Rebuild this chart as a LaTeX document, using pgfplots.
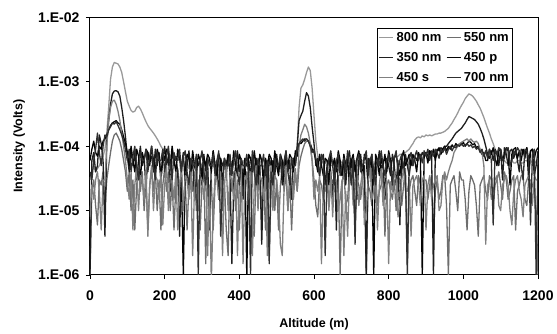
\documentclass[border=0pt]{standalone}
\usepackage{pgfplots}
\pgfplotsset{compat=1.18}
\usepackage{pgfplotstable}
\usepackage{fontspec}
\setmainfont{Liberation Sans}
\definecolor{c800}{HTML}{999999}
\definecolor{c550}{HTML}{6E6E6E}
\definecolor{c350}{HTML}{1E1E1E}
\definecolor{c450p}{HTML}{050505}
\definecolor{c450s}{HTML}{808080}
\definecolor{c700}{HTML}{303030}
\pgfplotstableread{
x a b c d e f
0 3e-5 1e-6 1e-6 6e-5 8e-6 4e-5
5 4e-5 2e-5 6e-5 9e-5 2.5e-5 3e-5
10 5e-5 3e-5 8e-5 1.2e-4 1.5e-5 6e-5
15 4e-5 1.2e-5 4e-5 8e-5 3e-5 9e-5
20 4.5e-5 6e-6 5e-5 7e-5 4e-5 1.6e-4
25 5e-5 3e-5 1.5e-4 1e-4 2e-5 8e-5
30 6e-5 2.5e-5 1.1e-4 9e-5 5e-6 5e-5
35 7e-5 4e-5 6e-5 1.2e-4 3e-5 1e-4
40 9e-5 1.2e-5 4e-6 1.3e-4 3e-5 1.5e-4
45 1.6e-4 3e-5 1.2e-4 1.5e-4 1e-4 1.4e-4
50 4e-4 5e-5 2.5e-4 1.8e-4 2.5e-4 1.8e-4
55 1.1e-3 8e-5 4.5e-4 2.1e-4 4e-4 2e-4
60 1.7e-3 1.2e-4 6.5e-4 2.3e-4 5e-4 2.3e-4
65 2e-3 1.5e-4 7.2e-4 2.4e-4 5.2e-4 2.2e-4
70 1.95e-3 1.6e-4 7.3e-4 2.5e-4 4.5e-4 2.4e-4
75 1.9e-3 1.4e-4 7e-4 2.3e-4 3.5e-4 2.1e-4
80 1.7e-3 1.2e-4 6e-4 2.2e-4 2.5e-4 1.8e-4
85 1.4e-3 9e-5 4e-4 1.8e-4 1.6e-4 1.5e-4
90 1e-3 6e-5 2.5e-4 1.4e-4 1e-4 1.2e-4
95 7e-4 4e-5 1.4e-4 1.1e-4 6e-5 9e-5
100 5e-4 2e-5 7e-5 8e-5 3e-5 6e-5
105 4.2e-4 4e-5 4e-5 5e-5 1.5e-5 9e-5
110 3.6e-4 1e-5 9e-5 1e-4 4e-5 4e-5
115 3.4e-4 3e-5 5e-5 6e-5 5e-6 7e-5
120 3.5e-4 5e-6 8e-5 4e-5 2.5e-5 1e-4
125 4e-4 2.5e-5 3e-5 9e-5 5e-5 5e-5
130 4.2e-4 4.5e-5 6e-5 7e-5 1e-5 3e-5
135 3.8e-4 2e-5 1e-4 3e-5 3.5e-5 8e-5
140 3.3e-4 4e-5 5e-5 8e-5 3e-5 6e-5
145 2.8e-4 1e-5 7e-5 6e-5 1.5e-5 6e-5
150 2.4e-4 3e-5 2e-5 9e-5 4e-5 9e-5
155 2.1e-4 5e-6 8e-5 8e-5 4e-6 4e-5
160 1.9e-4 2.5e-5 6e-5 5e-5 2.5e-5 7e-5
165 1.75e-4 4.5e-5 7e-5 1e-4 5e-5 1e-4
170 1.6e-4 2e-5 4e-5 6e-5 1e-5 5e-5
175 1.45e-4 4e-5 9e-5 4e-5 3.5e-5 3e-5
180 1.3e-4 1e-5 5e-5 9e-5 3e-5 8e-5
185 1.15e-4 3e-5 8e-5 7e-5 1.5e-5 6e-5
190 1e-4 5e-6 3e-5 3e-5 4e-5 6e-5
195 9e-5 2.5e-5 6e-5 8e-5 6e-6 9e-5
200 8.5e-5 4.5e-5 1e-4 6e-5 2.5e-5 4e-5
205 8e-5 2e-5 5e-5 9e-5 5e-5 7e-5
210 7.5e-5 4e-5 7e-5 8e-5 1e-5 1e-4
215 7.2e-5 1e-5 2e-5 5e-5 3.5e-5 5e-5
220 7e-5 3e-5 8e-5 1e-4 3e-5 3e-5
225 6.8e-5 5e-6 6e-5 6e-5 1.5e-5 8e-5
230 6.5e-5 2.5e-5 7e-5 4e-5 4e-5 6e-5
235 6.2e-5 4.5e-5 4e-5 9e-5 5e-6 6e-5
240 6e-5 2e-5 4e-6 7e-5 2.5e-5 9e-5
245 5.8e-5 4e-5 5e-5 3e-5 5e-5 4e-5
250 5.5e-5 1e-5 8e-5 1e-6 1e-5 7e-5
255 5e-5 3e-5 2.5e-5 5e-5 3.5e-5 8.5e-5
260 6e-5 5e-6 5e-5 7.5e-5 3e-5 4e-5
265 4.5e-5 2.5e-5 8.5e-5 6.5e-5 1.5e-5 2.5e-5
270 5.5e-5 4.5e-5 4e-5 4e-5 4e-5 6.5e-5
275 6e-5 2e-5 6e-5 8.5e-5 2e-6 5e-5
280 5e-5 4e-5 1.5e-5 5e-5 2.5e-5 5e-5
285 4.8e-5 1e-5 6.5e-5 3.5e-5 5e-5 7.5e-5
290 5.8e-5 3e-5 5e-5 7.5e-5 1e-5 1e-6
295 5.5e-5 5e-6 6e-5 6e-5 3.5e-5 6e-5
300 5e-5 2.5e-5 3.5e-5 2.5e-5 3e-5 8.5e-5
305 6e-5 4.5e-5 7.5e-5 6.5e-5 1.5e-5 4e-5
310 4.5e-5 1.5e-6 4e-5 5e-5 4e-5 2.5e-5
315 5.5e-5 4e-5 6.5e-5 7.5e-5 2e-6 6.5e-5
320 6e-5 1e-5 5e-6 6.5e-5 2.5e-5 5e-5
325 5e-5 3e-5 5e-5 4e-5 8e-7 5e-5
330 4.8e-5 5e-6 8.5e-5 8.5e-5 1e-5 7.5e-5
335 5.8e-5 2.5e-5 4e-5 5e-5 3.5e-5 3.5e-5
340 5.5e-5 4.5e-5 6e-5 3.5e-5 3e-5 6e-5
345 5e-5 2e-5 1.5e-5 7.5e-5 1.5e-5 8.5e-5
350 6e-5 4e-5 6.5e-5 6e-5 4e-5 4e-6
355 4.5e-5 1e-5 5e-5 2.5e-5 2e-6 2.5e-5
360 5.5e-5 3e-5 6e-5 6.5e-5 2.5e-5 6.5e-5
365 6e-5 5e-6 3.5e-5 5e-5 5e-5 5e-5
370 5e-5 2e-6 7.5e-5 7.5e-5 1e-5 5e-5
375 4.8e-5 4.5e-5 4e-5 6.5e-5 3.5e-5 7.5e-5
380 5.8e-5 2e-5 1.5e-6 4e-5 3e-5 3.5e-5
385 5.5e-5 4e-5 2.5e-5 8.5e-5 1.5e-5 6e-5
390 5e-5 1e-5 5e-5 5e-5 4e-5 8.5e-5
395 6e-5 3e-5 8.5e-5 3.5e-5 2e-6 4e-5
400 4.5e-5 5e-6 4e-5 7.5e-5 2.5e-5 2.5e-5
405 5.5e-5 2.5e-5 6e-5 6e-5 5e-5 6.5e-5
410 6e-5 4.5e-5 1.5e-5 2.5e-5 1.5e-6 5e-5
415 5e-5 2e-5 6.5e-5 6.5e-5 3.5e-5 5e-5
420 4.8e-5 4e-5 5e-5 9e-7 3e-5 7.5e-5
425 5.8e-5 1e-5 6e-5 7.5e-5 1.5e-5 3.5e-5
430 5.5e-5 3e-5 3.5e-5 6.5e-5 4e-5 1e-6
435 5e-5 5e-6 7.5e-5 4e-5 2e-6 8.5e-5
440 6e-5 4e-6 4e-5 8.5e-5 2.5e-5 4e-5
445 4.5e-5 4.5e-5 6.5e-5 5e-5 5e-5 2.5e-5
450 5.5e-5 2e-5 2.5e-5 3.5e-5 1e-5 6.5e-5
455 6e-5 4e-5 5e-5 7.5e-5 3.5e-5 5e-5
460 5e-5 1e-5 3e-6 6e-5 3e-5 5e-5
465 4.8e-5 3e-5 4e-5 2.5e-5 1.5e-5 7.5e-5
470 5.8e-5 5e-6 6e-5 6.5e-5 4e-5 3.5e-5
475 5.5e-5 2.5e-5 1.5e-5 5e-5 2e-6 6e-5
480 5e-5 2e-6 6.5e-5 7.5e-5 2.5e-5 1.5e-6
485 6e-5 2e-5 5e-5 6.5e-5 5e-5 4e-5
490 4.5e-5 4e-5 6e-5 4e-5 1e-5 2.5e-5
495 5.5e-5 1e-5 3.5e-5 8.5e-5 3.5e-5 6.5e-5
500 6e-5 3e-5 7.5e-5 5e-5 3e-5 5e-5
505 5e-5 5e-6 4e-5 3.5e-5 1.5e-5 5e-5
510 4.8e-5 2.5e-5 6.5e-5 7.5e-5 3e-6 7.5e-5
515 5.8e-5 4.5e-5 2.5e-5 6e-5 2e-6 3.5e-5
520 5.5e-5 2e-5 5e-5 2.5e-5 2.5e-5 6e-5
525 5e-5 4e-5 8.5e-5 6.5e-5 5e-5 8.5e-5
530 6e-5 1e-5 4e-5 5e-5 1e-5 4e-5
535 6e-5 3e-5 6e-5 7.5e-5 3.5e-5 2.5e-5
540 6.5e-5 5e-6 1.5e-5 6.5e-5 3e-5 6.5e-5
545 6.5e-5 2.5e-5 6.5e-5 4e-5 1.5e-5 5e-5
550 7e-5 4.5e-5 5e-5 8.5e-5 4e-5 5e-5
555 1e-4 2e-5 1e-4 7e-5 2e-5 9e-5
560 4e-4 5e-5 2.5e-4 1.1e-4 1e-4 1.1e-4
565 8e-4 7e-5 3e-4 1.1e-4 1.5e-4 1.2e-4
570 9e-4 9e-5 3.5e-4 1.2e-4 1.8e-4 1.3e-4
575 1.1e-3 1.1e-4 5e-4 1.3e-4 2.2e-4 1.2e-4
580 1.4e-3 1.2e-4 6.8e-4 1.3e-4 2e-4 1.3e-4
585 1.7e-3 1.2e-4 6e-4 1.2e-4 1.6e-4 1.2e-4
590 1.5e-3 1e-4 4e-4 1.1e-4 1.1e-4 1e-4
595 8e-4 6e-5 2e-4 9e-5 6e-5 8e-5
600 3e-4 3e-5 1.1e-4 8e-5 1.5e-5 9e-5
605 1.2e-4 1.2e-5 5e-5 6e-5 3e-5 6.5e-5
610 7e-5 8e-6 6.5e-5 4e-5 2e-5 5e-5
615 6e-5 3e-5 3.5e-5 7.5e-5 3.5e-5 3.5e-5
620 6e-5 2.5e-5 6e-5 5e-5 1.5e-6 7.5e-5
625 5.5e-5 1.5e-5 7.5e-5 3.5e-5 2.5e-5 6e-5
630 5.5e-5 3e-5 2.5e-5 6.5e-5 2e-5 2e-6
635 6e-5 4e-5 5e-5 6e-5 3e-5 4e-5
640 6e-5 1.2e-5 6.5e-5 2.5e-5 1e-5 6.5e-5
645 5e-5 2.5e-5 4e-5 7.5e-5 4e-5 8.5e-5
650 5e-5 3e-5 1.5e-5 5e-5 8e-6 5e-5
655 6e-5 2e-5 6e-5 6.5e-5 3.5e-5 2.5e-5
660 5.5e-5 2e-5 5e-6 4e-5 2.8e-5 6e-5
665 6e-5 3.5e-5 7.5e-5 8.5e-5 1e-5 7.5e-5
670 6e-5 1e-6 5e-5 6e-5 1.5e-5 3.5e-5
675 5.5e-5 2.5e-5 3.5e-5 3.5e-5 3e-5 5e-5
680 5e-5 4.5e-5 6.5e-5 7.5e-5 2e-6 6.5e-5
685 6e-5 1.2e-5 2.5e-5 5e-5 2e-5 4e-5
690 6e-5 1.5e-5 6e-5 6.5e-5 4e-6 8.5e-5
695 5.5e-5 4e-5 8.5e-5 2.5e-5 3e-5 5e-5
700 5.5e-5 3.5e-5 4e-5 6e-5 4.5e-5 2.5e-5
705 6e-5 2e-5 6.5e-5 7.5e-5 1.2e-5 6.5e-5
710 6e-5 6e-6 5e-5 4e-5 3e-5 3e-6
715 5e-5 3e-5 1.5e-5 6.5e-5 3.5e-5 6e-5
720 5e-5 2.5e-5 6e-5 8.5e-5 1.2e-5 7.5e-5
725 6e-5 1.5e-5 7.5e-5 5e-5 2.5e-5 4e-5
730 6e-5 3e-5 3.5e-5 3.5e-5 4e-5 5e-5
735 5.5e-5 4.5e-5 5e-5 7.5e-5 6e-6 6.5e-5
740 5.5e-5 9e-7 1e-6 6e-5 1e-5 8.5e-5
745 6e-5 2.5e-5 6.5e-5 2.5e-5 3e-5 3.5e-5
750 6e-5 2e-5 4e-5 6.5e-5 5e-5 6e-5
755 5e-5 1.2e-5 7.5e-5 5e-5 1.5e-5 7.5e-5
760 5e-5 3.5e-5 2.5e-5 1e-6 2e-5 4e-5
765 6e-5 4e-5 6e-5 7.5e-5 3.5e-5 2.5e-5
770 6e-5 1.2e-5 5e-5 6e-5 5e-6 6.5e-5
775 5.5e-5 2e-5 8.5e-5 3.5e-5 2.5e-5 5e-5
780 5.5e-5 2.5e-5 4e-5 6.5e-5 4.5e-5 8.5e-5
785 6e-5 4e-5 6e-5 5e-5 1.2e-5 5e-5
790 6.5e-5 4e-6 1.5e-5 7.5e-5 2.2e-5 3.5e-5
795 6e-5 2.5e-5 6.5e-5 4e-5 3e-5 6e-5
800 6e-5 3e-5 5e-5 8.5e-5 1.5e-6 7.5e-5
805 6.5e-5 2e-5 3.5e-5 6e-5 2.8e-5 5e-5
810 6.5e-5 1.5e-5 7.5e-5 2.5e-5 2e-5 2.5e-5
815 7e-5 3e-5 5e-5 6.5e-5 4e-5 6.5e-5
820 7e-5 1e-5 2.5e-5 7.5e-5 3e-5 8.5e-5
825 7e-5 3.5e-5 6e-5 5e-5 8e-6 4e-5
830 7.5e-5 3e-5 6e-6 3.5e-5 1.2e-5 6e-5
835 7.5e-5 1.2e-5 6.5e-5 6.5e-5 3e-5 7.5e-5
840 8e-5 2.5e-5 4e-5 8.5e-5 4.5e-5 5e-5
845 8e-5 4.5e-5 7.5e-5 5e-5 2e-5 3.5e-5
850 8.5e-5 1.5e-6 5e-5 6e-5 2e-5 1e-6
855 9e-5 2e-5 3.5e-5 7.5e-5 3e-5 6.5e-5
860 1e-4 3e-5 6e-5 5e-5 4e-6 8e-5
865 1.1e-4 3.5e-5 5e-5 7.5e-5 2.5e-5 5e-5
870 1.25e-4 2e-5 7e-5 6e-5 3e-5 7e-5
875 1.35e-4 1.2e-5 6e-5 4e-5 3.5e-5 8.5e-5
880 1.4e-4 3.5e-5 7.5e-5 8e-5 2.5e-5 6e-5
885 1.35e-4 2.5e-5 6.5e-5 6.5e-5 1.2e-5 7.5e-5
890 1.45e-4 1e-5 8e-5 1e-6 3e-5 5.5e-5
895 1.4e-4 3e-5 7e-5 7e-5 3.5e-5 8.5e-5
900 1.5e-4 3e-5 8e-5 8e-5 5e-6 7e-5
905 1.45e-4 1.5e-5 7e-5 5.5e-5 2.5e-5 9e-5
910 1.5e-4 2.5e-5 8.5e-5 8.5e-5 3.5e-5 6e-5
915 1.45e-4 3.5e-5 7.5e-5 7e-5 1.5e-5 8.5e-5
920 1.5e-4 4e-6 1e-6 9e-5 2.5e-5 7e-5
925 1.55e-4 2e-5 8e-5 6e-5 3e-5 9e-5
930 1.55e-4 3e-5 9e-5 8.5e-5 3.5e-5 8e-5
935 1.6e-4 1.5e-5 8.5e-5 9.5e-5 1e-5 6.5e-5
940 1.6e-4 2e-5 9.5e-5 7.5e-5 1.2e-5 9e-5
945 1.65e-4 3.5e-5 9e-5 9e-5 3e-5 8e-5
950 1.7e-4 3.5e-5 1e-4 1e-4 4e-5 9.5e-5
955 1.8e-4 1.2e-5 1e-4 8.5e-5 3e-5 7.5e-5
960 1.9e-4 1e-6 1.1e-4 1e-4 4e-5 9e-5
965 2.1e-4 2.5e-5 1.2e-4 9e-5 5e-5 1e-4
970 2.3e-4 3e-5 1.3e-4 1.05e-4 6e-5 8.5e-5
975 2.6e-4 3.5e-5 1.45e-4 9.5e-5 8e-5 1e-4
980 2.9e-4 2e-5 1.6e-4 1.1e-4 9e-5 9.5e-5
985 3.3e-4 1e-5 1.7e-4 1e-4 1e-4 1.05e-4
990 3.8e-4 4e-5 1.8e-4 1.1e-4 1.1e-4 1e-4
995 4.3e-4 3e-5 1.9e-4 1.05e-4 1.15e-4 1.1e-4
1000 4.8e-4 3e-5 2.1e-4 1.15e-4 1.2e-4 1e-4
1005 5.5e-4 1.5e-5 2.3e-4 1e-4 1.25e-4 1.05e-4
1010 6e-4 5e-6 2.6e-4 1.1e-4 1.3e-4 1.1e-4
1015 6.5e-4 2e-5 2.9e-4 1.2e-4 1.2e-4 1e-4
1020 6.3e-4 3.5e-5 2.8e-4 1.15e-4 1.3e-4 1.05e-4
1025 6e-4 3e-5 2.7e-4 1.05e-4 1.2e-4 9.5e-5
1030 5.5e-4 2.5e-5 2.6e-4 1.1e-4 1.15e-4 1e-4
1035 5e-4 1.2e-5 2.4e-4 9.5e-5 1.2e-4 9e-5
1040 4.4e-4 4e-6 2.2e-4 1e-4 1.1e-4 9.5e-5
1045 3.9e-4 2.5e-5 1.9e-4 8.5e-5 9e-5 8e-5
1050 3.3e-4 3e-5 1.6e-4 7.5e-5 8e-5 9e-5
1055 2.8e-4 3.5e-5 1.3e-4 8e-5 5e-5 7e-5
1060 2.3e-4 2e-5 1e-4 6e-5 3e-6 8.5e-5
1065 1.9e-4 1.5e-5 7.5e-5 6e-5 2.5e-5 6.5e-5
1070 1.6e-4 3.5e-5 6.5e-5 9e-5 3e-5 9e-5
1075 1.3e-4 3e-5 8.5e-5 7.5e-5 1.5e-5 6e-5
1080 1.1e-4 1.2e-5 6e-5 9.5e-5 2e-5 6e-6
1085 9e-5 2.5e-5 9e-5 6.5e-5 3e-5 8.5e-5
1090 8e-5 3e-5 7.5e-5 5e-5 3.5e-5 7.5e-5
1095 7e-5 4e-5 5e-5 8.5e-5 1.2e-5 9.5e-5
1100 6.5e-5 2.5e-5 9e-5 9e-5 1e-5 8.5e-5
1105 6e-5 1.5e-5 3e-5 6e-5 2.5e-5 6e-5
1110 6e-5 4e-5 9.5e-5 7.5e-5 3e-5 6.5e-5
1115 5.5e-5 3e-5 7.5e-5 9.5e-5 3.5e-5 9e-5
1120 5.5e-5 1.5e-5 5e-5 8.5e-5 2.5e-5 9.5e-5
1125 6e-5 2e-5 8.5e-5 2.5e-5 1e-5 5e-5
1130 6e-5 3e-5 9e-5 7.5e-5 6e-6 6e-5
1135 5.5e-5 3.5e-5 6.5e-5 9e-5 2e-5 8.5e-5
1140 5.5e-5 5e-6 8.5e-5 9.5e-5 3e-5 7.5e-5
1145 6e-5 2e-5 6e-5 6.5e-5 3.5e-5 9.5e-5
1150 6e-5 2.5e-5 4e-5 8.5e-5 2e-5 8.5e-5
1155 5.5e-5 3.5e-5 9e-5 6e-5 1.5e-5 5e-5
1160 5.5e-5 3.5e-5 8.5e-5 9e-5 8e-6 3e-5
1165 6e-5 1.5e-5 6.5e-5 7.5e-5 2.5e-5 9e-5
1170 6e-5 1.2e-5 9.5e-5 9.5e-5 3e-5 8.5e-5
1175 5.5e-5 3e-5 6e-5 3e-5 3.5e-5 6e-5
1180 5.5e-5 3e-5 8.5e-5 8.5e-5 2.5e-5 6e-6
1185 6e-5 2.5e-5 9e-5 9e-5 1.2e-5 7.5e-5
1190 6e-5 2e-5 3.5e-5 6.5e-5 3.5e-5 9e-5
1195 5.5e-5 1e-5 5e-5 8.5e-5 3e-5 1e-6
1200 5.5e-5 1e-6 8.5e-5 9.5e-5 3e-5 6.5e-5
}\data
\begin{document}
\begin{tikzpicture}
\begin{axis}[
  scale only axis, width=448pt, height=257.5pt,
  ymode=log, ymin=1e-6, ymax=1e-2, xmin=0, xmax=1200,
  xtick={0,200,400,600,800,1000,1200},
  xticklabels={0,200,400,600,800,1000,1200},
  ytick={1e-6,1e-5,1e-4,1e-3,1e-2},
  yticklabels={1.E-06,1.E-05,1.E-04,1.E-03,1.E-02},
  yminorticks=false,
  tick align=outside, xtick pos=bottom, ytick pos=left,
  major tick length=4pt,
  tick style={black, line width=0.8pt},
  axis line style={black, line width=1pt},
  ticklabel style={font=\fontsize{14}{16}\selectfont\bfseries},
  xticklabel style={yshift=-8pt},
  yticklabel style={xshift=-3pt},
  xlabel={Altitude (m)}, ylabel={Intensity (Volts)},
  label style={font=\fontsize{12.5}{15}\selectfont\bfseries},
  xlabel style={at={(axis description cs:0.5,-0.19)}, anchor=center},
  ylabel style={at={(axis description cs:-0.158,0.5)}, anchor=center},
  legend columns=2,
  legend cell align=left,
  legend image post style={line width=1.3pt},
  legend image code/.code={\draw[#1] (0cm,0cm) -- (0.5cm,0cm);},
  legend style={at={(axis description cs:0.64,0.96)}, anchor=north west,
    draw=black, line width=0.8pt, font=\fontsize{13}{15}\selectfont\bfseries,
    inner sep=1.5pt, row sep=4.5pt,
    nodes={inner sep=2.5pt},
    /tikz/every even column/.append style={column sep=2pt}},
  every axis plot/.append style={line width=1.3pt, line join=round},
]
\addplot[c800, no marks] table[x=x,y=a]{\data};
\addlegendentry{800 nm}
\addplot[c550, no marks] table[x=x,y=b]{\data};
\addlegendentry{550 nm}
\addplot[c350, no marks] table[x=x,y=c]{\data};
\addlegendentry{350 nm}
\addplot[c450p, no marks] table[x=x,y=d]{\data};
\addlegendentry{450 p}
\addplot[c450s, no marks] table[x=x,y=e]{\data};
\addlegendentry{450 s}
\addplot[c700, no marks] table[x=x,y=f]{\data};
\addlegendentry{700 nm}
\end{axis}
\path ([xshift=-90pt,yshift=-58pt]current axis.south west) rectangle ([xshift=19pt,yshift=17.5pt]current axis.north east);
\end{tikzpicture}
\end{document}
